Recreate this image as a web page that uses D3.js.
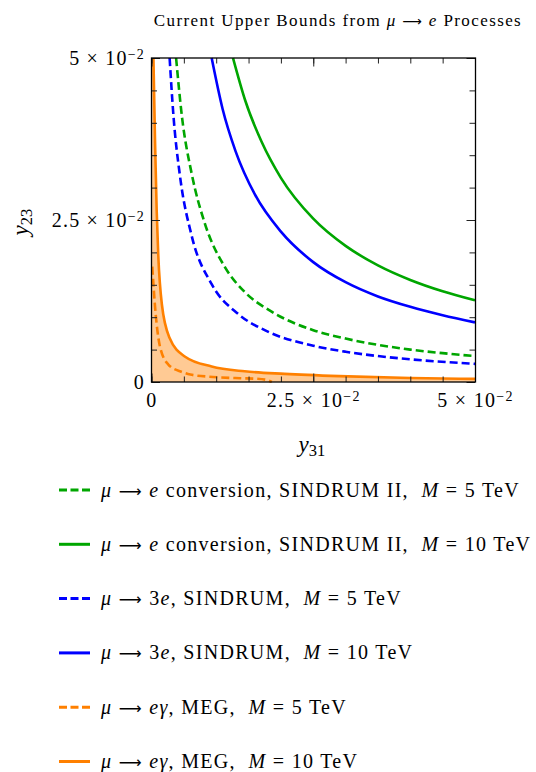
<!DOCTYPE html>
<html>
<head>
<meta charset="utf-8">
<script src="https://d3js.org/d3.v7.min.js"></script>
<style>
  body { margin: 0; background: #fff; }
  text { font-family: "Liberation Serif", "Times New Roman", serif; fill: #000; white-space: pre; }
</style>
</head>
<body>
<script>
// curves, points are [y31, y23]
const convM5 = [[0.0038, 0.05], [0.0047, 0.041], [0.0062, 0.0322], [0.0083, 0.0243], [0.0113, 0.0178],
  [0.0144, 0.0139], [0.0185, 0.0109], [0.025, 0.0080], [0.03, 0.0067], [0.035, 0.00573],
  [0.04, 0.0050], [0.045, 0.00445], [0.05, 0.0040]];
const convM10 = [[0.0126, 0.05], [0.0145, 0.0434], [0.017, 0.0371], [0.02, 0.0315], [0.025, 0.0252],
  [0.03, 0.0210], [0.035, 0.0180], [0.04, 0.01575], [0.045, 0.0140], [0.05, 0.0126]];
const threeEM5 = [[0.0028, 0.05], [0.0034, 0.041], [0.0044, 0.0318], [0.0062, 0.0226], [0.0093, 0.0151],
  [0.0134, 0.0105], [0.0175, 0.0080], [0.025, 0.0056], [0.03, 0.00467], [0.035, 0.0040],
  [0.04, 0.0035], [0.05, 0.0028]];
const threeEM10 = [[0.0093, 0.05], [0.011, 0.0421], [0.013, 0.0356], [0.016, 0.0289], [0.02, 0.0232],
  [0.025, 0.0185], [0.03, 0.0154], [0.035, 0.0132], [0.04, 0.0116], [0.045, 0.0103], [0.05, 0.0092]];
const megM5 = [[0.00012, 0.0178], [0.00055, 0.0116], [0.0013, 0.0055], [0.0026, 0.0027], [0.0047, 0.00155],
  [0.006, 0.00115], [0.0095, 0.00078], [0.0137, 0.00058], [0.0162, 0.0005], [0.0178, 0.00032], [0.0186, 0]];
const megM10 = [[0.0003, 0.05], [0.00055, 0.037], [0.0008, 0.0265], [0.00105, 0.0195], [0.0016, 0.012],
  [0.0028, 0.0068], [0.0052, 0.0039], [0.0093, 0.0024], [0.0144, 0.00165], [0.0206, 0.00125],
  [0.029, 0.0009], [0.04, 0.00062], [0.05, 0.00048]];

const xMajor = [0, 0.025, 0.05];
const yMajor = [0, 0.025, 0.05];
const minorTicks = d3.range(0, 11).map(i => i * 0.005);

const series = [
  { data: convM5, color: "#00a600", dashed: true, label: "$μ→e$ conversion, SINDRUM II,  $M=5$ TeV" },
  { data: convM10, color: "#00a600", dashed: false, label: "$μ→e$ conversion, SINDRUM II,  $M=10$ TeV" },
  { data: threeEM5, color: "#0000ff", dashed: true, label: "$μ→3e$, SINDRUM,  $M=5$ TeV" },
  { data: threeEM10, color: "#0000ff", dashed: false, label: "$μ→3e$, SINDRUM,  $M=10$ TeV" },
  { data: megM5, color: "#ff8000", dashed: true, label: "$μ→eγ$, MEG,  $M=5$ TeV" },
  { data: megM10, color: "#ff8000", dashed: false, label: "$μ→eγ$, MEG,  $M=10$ TeV" }
];
const title = "Current Upper Bounds from $μ→e$ Processes";

const svg = d3.select("body").append("svg").attr("width", 536).attr("height", 772);

const x = d3.scaleLinear().domain([0, 0.05]).range([151.5, 475]);
const y = d3.scaleLinear().domain([0, 0.05]).range([382, 58]);

// writes a string with $math$ parts into a text element
function mathText(sel, str) {
  str.split("$").forEach((part, i) => {
    if (i % 2 === 0) {
      if (part) sel.append("tspan").text(part);
      return;
    }
    part.replace(/→/g, " ⟶ ").replace(/=/g, " = ").split("").forEach(ch => {
      const t = sel.append("tspan").text(ch);
      if (/[A-Za-zα-ω]/.test(ch)) t.style("font-style", "italic");
      if (ch === "⟶") t.style("font-family", "DejaVu Sans").style("font-size", "0.8em");
    });
  });
}

function tickLabel(sel, v) {
  sel.text(null);
  if (v === 0) { sel.text("0"); return; }
  sel.append("tspan").text(d3.format("")(v * 100) + " × 10");
  sel.append("tspan").attr("dy", "-0.45em").style("font-size", "0.7em").text("−2");
}

// plot area clip
svg.append("clipPath").attr("id", "plot")
  .append("rect").attr("x", 151.5).attr("y", 57).attr("width", 324).attr("height", 326);

const g = svg.append("g").attr("clip-path", "url(#plot)");

// shaded region below the M = 10 TeV MEG bound
const area = d3.area()
  .x(d => x(d[0]))
  .y0(y(0))
  .y1(d => y(d[1]))
  .curve(d3.curveMonotoneX);
g.append("path")
  .datum([[0, 0.05]].concat(megM10))
  .attr("fill", "#ff8000")
  .attr("fill-opacity", 0.42)
  .attr("d", area);

const line = d3.line()
  .x(d => x(d[0]))
  .y(d => y(d[1]))
  .curve(d3.curveMonotoneX);

series.forEach(s => {
  g.append("path")
    .datum(s.data)
    .attr("fill", "none")
    .attr("stroke", s.color)
    .attr("stroke-width", 2.6)
    .attr("stroke-dasharray", s.dashed ? "8,4" : null)
    .attr("d", line);
});

// ticks on all four sides, pointing in
function ticks(axis, tr, values, size) {
  const a = svg.append("g").attr("transform", tr)
    .call(axis.tickValues(values).tickSize(-size).tickFormat(""));
  a.select(".domain").remove();
  a.selectAll(".tick line").attr("stroke", "#222").attr("stroke-width", 1);
  return a;
}
ticks(d3.axisTop(x), "translate(0,58)", minorTicks, 5.5);
ticks(d3.axisTop(x), "translate(0,58)", xMajor, 8.5);
ticks(d3.axisRight(y), "translate(475,0)", minorTicks, 5.5);
ticks(d3.axisRight(y), "translate(475,0)", yMajor, 8.5);
ticks(d3.axisBottom(x), "translate(0,382)", minorTicks, 5.5);
ticks(d3.axisLeft(y), "translate(151.5,0)", minorTicks, 5.5);

const xAxis = ticks(d3.axisBottom(x).tickPadding(11), "translate(0,382)", xMajor, 8.5);
xAxis.selectAll(".tick text").each(function (d) { tickLabel(d3.select(this), d); })
  .style("font-size", "20px").style("letter-spacing", "1.3px").attr("font-family", null);

const yAxis = ticks(d3.axisLeft(y).tickPadding(6.5), "translate(151.5,0)", yMajor, 8.5);
yAxis.selectAll(".tick text").each(function (d) { tickLabel(d3.select(this), d); })
  .style("font-size", "20px").style("letter-spacing", "1.2px").attr("font-family", null);

// frame
svg.append("rect")
  .attr("x", 151.5).attr("y", 58).attr("width", 324).attr("height", 324)
  .attr("fill", "none").attr("stroke", "#000").attr("stroke-width", 1.3);

// title
svg.append("text")
  .attr("x", 338).attr("y", 26)
  .attr("text-anchor", "middle")
  .style("font-size", "17px").style("letter-spacing", "1.4px")
  .call(mathText, title);

// axis labels
const xl = svg.append("text").attr("x", 312).attr("y", 452).attr("text-anchor", "middle").style("font-size", "23px");
xl.append("tspan").style("font-style", "italic").text("y");
xl.append("tspan").attr("dy", "0.22em").style("font-size", "0.72em").text("31");

const yl = svg.append("text").attr("transform", "translate(28,222) rotate(-90)")
  .attr("text-anchor", "middle").style("font-size", "23px");
yl.append("tspan").style("font-style", "italic").text("y");
yl.append("tspan").attr("dy", "0.22em").style("font-size", "0.72em").text("23");

// legend
const legend = svg.append("g");
series.forEach((s, i) => {
  const cy = 490 + i * 54.3;
  legend.append("line")
    .attr("x1", 59).attr("x2", 90).attr("y1", cy).attr("y2", cy)
    .attr("stroke", s.color).attr("stroke-width", 3)
    .attr("stroke-dasharray", s.dashed ? "8,3.5" : null);
  legend.append("text")
    .attr("x", 101).attr("y", cy + 6.5)
    .style("font-size", "20px").style("letter-spacing", "1.3px")
    .call(mathText, s.label);
});
</script>
</body>
</html>
